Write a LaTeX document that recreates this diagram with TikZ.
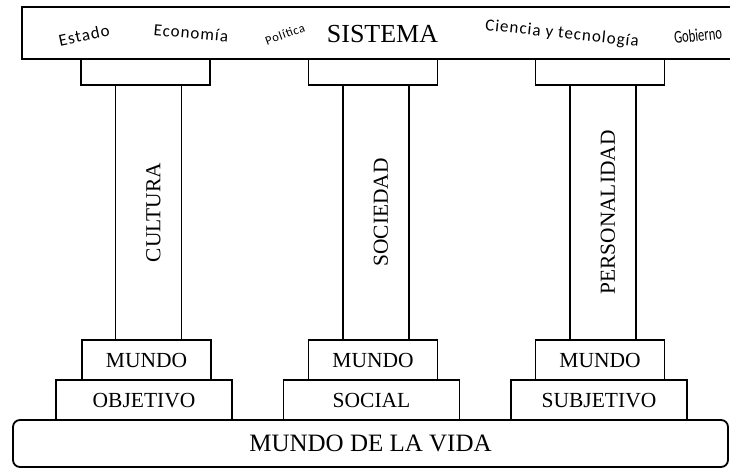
\documentclass[tikz,border=0pt]{standalone}
\usepackage{fontspec}
\setmainfont{Liberation Serif}
\newfontfamily\wordfont[LetterSpace=6]{Carlito}
\newfontfamily\narrowfont{Carlito}
\usetikzlibrary{positioning}
\tikzset{
    pillar/.style = {
      draw,
      line width=1.8pt,
      rectangle,
      inner sep=0pt,
      outer sep=0pt,
      fill=white
    },
    capital/.style = {pillar, minimum width=129pt, minimum height=26pt},
    shaft/.style = {pillar, minimum width=66pt, minimum height=255pt},
    world/.style = {
      pillar,
      minimum width=129pt,
      minimum height=40pt,
      text depth=0pt,
      font=\fontsize{21.5}{24}\selectfont
    },
    plinth/.style = {
      pillar,
      minimum width=176pt,
      minimum height=40pt,
      text depth=0pt,
      font=\fontsize{21.5}{24}\selectfont
    },
    upright/.style = {rotate=90, inner sep=0pt, font=\fontsize{21.4}{24}\selectfont},
    word/.style = {inner sep=0pt, font=\wordfont\fontsize{17}{20}\selectfont},
}

\begin{document}
\begin{tikzpicture}[x=1pt, y=-1pt]
      \path [use as bounding box, fill=white] (0,0) rectangle (730,468);
      \clip (0,0) rectangle (730,468);

      \node [
        pillar,
        anchor=north west,
        minimum width=720pt,
        minimum height=52pt
      ] (system) at (22,7) {};
      \node [inner sep=0pt, text depth=0pt, font=\fontsize{26}{30}\selectfont] (sistema) at (382.5,34) {SISTEMA};

      \node [word, rotate=12] (estado) at (84,35) {Estado};
      \node [word, rotate=-5] (economia) at (191,33) {Economía};
      \node [word, rotate=20, font=\wordfont\fontsize{12.5}{15}\selectfont] (politica) at (285,34) {Política};
      \node [word, rotate=-6] (ciencia) at (562,34) {Ciencia y tecnología};
      \node [word, rotate=6, font=\narrowfont\fontsize{18}{21}\selectfont] (gobierno) at (698,35) {\scalebox{0.7}[1]{Gobierno}};

      % first column
      \node [capital, anchor=north] (capital1) at (145.5,59) {};
      \node [shaft, below=0pt of capital1, xshift=3pt] (shaft1) {};
      \node [world, below=0pt of shaft1, xshift=-2pt] (world1) {MUNDO};
      \node [plinth, below=0pt of world1, xshift=-2.5pt] (plinth1) {OBJETIVO};
      \node [upright, yshift=-5pt] (cultura) at (shaft1) {CULTURA};

      % second column
      \node [capital, anchor=north] (capital2) at (373,59) {};
      \node [shaft, below=0pt of capital2, xshift=3pt] (shaft2) {};
      \node [world, below=0pt of shaft2, xshift=-3pt] (world2) {MUNDO};
      \node [plinth, below=0pt of world2, xshift=-1.5pt] (plinth2) {SOCIAL};
      \node [upright, yshift=-5pt] (sociedad) at (shaft2) {SOCIEDAD};

      % third column
      \node [capital, anchor=north] (capital3) at (600,59) {};
      \node [shaft, below=0pt of capital3, xshift=3pt] (shaft3) {};
      \node [world, below=0pt of shaft3, xshift=-3pt] (world3) {MUNDO};
      \node [plinth, below=0pt of world3, xshift=-1pt] (plinth3) {SUBJETIVO};
      \node [upright, yshift=-5pt] (personalidad) at (shaft3) {PERSONALIDAD};

      \node [
        pillar,
        rounded corners=7pt,
        anchor=north west,
        minimum width=715pt,
        minimum height=47pt,
        text depth=0pt,
        font=\fontsize{25}{28}\selectfont
      ] (vida) at (13,420) {MUNDO DE LA VIDA};
    \end{tikzpicture}
\end{document}
